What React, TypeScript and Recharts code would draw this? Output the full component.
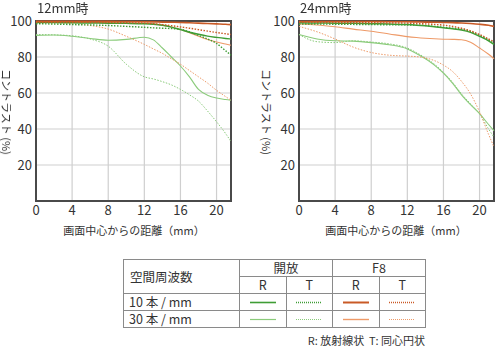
import React from "react";
import { LineChart, Line, XAxis, YAxis, CartesianGrid, ReferenceArea } from "recharts";

// distance from image centre (mm)
const DIST = [0, 2, 4, 6, 8, 10, 12, 13, 14, 15, 16, 17, 18, 19, 20, 21, 21.6];
const X_TICKS = [0, 4, 8, 12, 16, 20];
const Y_TICKS = [20, 40, 60, 80, 100];

// 12mm
const WIDE_OPEN_R10 = [99.2, 99.1, 99, 98.9, 98.8, 98.7, 98.5, 98.2, 97.6, 96.6, 95.2, 93.8, 92.6, 91.6, 90.9, 90.3, 90];
const WIDE_OPEN_T10 = [98.5, 98.3, 98, 97.8, 97.5, 97, 96.5, 96.2, 96, 95.8, 95.4, 94, 92, 90, 87.5, 83.5, 81];
const WIDE_OPEN_R30 = [92, 92.2, 91.5, 90.3, 89.3, 89.8, 91, 89.5, 85, 80, 75, 69, 62, 58.8, 57.2, 56.4, 56];
const WIDE_OPEN_T30 = [92.5, 92.3, 91.8, 90, 86, 76, 69, 67.8, 66.3, 64.5, 62, 59, 55.5, 50, 44, 37.5, 33];
const WIDE_F8_R10 = [99.8, 99.8, 99.8, 99.8, 99.8, 99.7, 99.6, 99.5, 99.4, 99.3, 99.2, 99, 98.8, 98.6, 98.4, 98.2, 98];
const WIDE_F8_T10 = [99.3, 99.3, 99.3, 99.2, 99.1, 99, 98.8, 98.5, 98, 97.4, 96.7, 96, 95.2, 94.4, 93.6, 92.9, 92.5];
const WIDE_F8_R30 = [99.4, 99.4, 99.3, 99.2, 99.1, 99, 98.8, 98.4, 97.7, 96.7, 95.3, 93.5, 91.5, 89.7, 88.3, 87.2, 86.5];
const WIDE_F8_T30 = [99, 99, 98.5, 97.5, 95.5, 91.5, 87, 84.5, 82, 79, 76, 72.5, 69, 65.5, 61.5, 58, 56];

// 24mm
const TELE_OPEN_R10 = [99, 98.9, 98.8, 98.7, 98.5, 98.3, 98, 97.7, 97.3, 96.8, 96.2, 95.7, 95, 93.7, 91.5, 89, 87];
const TELE_OPEN_T10 = [98.3, 98.3, 98.2, 98.1, 98, 97.9, 97.8, 97.7, 97.5, 97, 96.5, 96, 95.5, 94.2, 92, 89.5, 87.5];
const TELE_OPEN_R30 = [92.5, 90, 89, 88.8, 88, 86.8, 84.5, 82, 79, 75.5, 71, 65.5, 59, 53.5, 48.5, 42.5, 39];
const TELE_OPEN_T30 = [92.5, 88.5, 88, 89, 88.3, 87.3, 85, 82.5, 79.5, 76, 71.5, 66, 59.5, 54, 48.5, 40, 35.5];
const TELE_F8_R10 = [99.7, 99.7, 99.7, 99.7, 99.7, 99.6, 99.6, 99.5, 99.4, 99.3, 99.2, 99.1, 98.9, 98.6, 98.2, 97.6, 97];
const TELE_F8_T10 = [99.3, 99.2, 99.1, 99, 99, 98.9, 98.8, 98.6, 98.4, 98.1, 97.7, 97, 96, 94.5, 92.5, 90, 88.5];
const TELE_F8_R30 = [98.3, 97.8, 96.8, 95.5, 94.3, 92.8, 91.3, 90.8, 90.4, 90.1, 89.9, 89.8, 89.6, 88.2, 85, 81.5, 79];
const TELE_F8_T30 = [97, 94, 90, 85.5, 82.5, 81, 80.5, 80.2, 79.5, 78, 75.5, 72, 66.5, 59.5, 49.5, 37, 30];

const GREEN = "#3f9d35";
const GREEN_LIGHT = "#8bcb7b";
const ORANGE = "#c95a26";
const ORANGE_LIGHT = "#ee9a68";
const FONT = "'Noto Sans CJK JP', 'Noto Sans', sans-serif";

const buildRows = (s: number[][]) =>
  DIST.map((x, i) => ({
    x,
    openR10: s[0][i],
    openT10: s[1][i],
    openR30: s[2][i],
    openT30: s[3][i],
    f8R10: s[4][i],
    f8T10: s[5][i],
    f8R30: s[6][i],
    f8T30: s[7][i],
  }));

const wideData = buildRows([WIDE_OPEN_R10, WIDE_OPEN_T10, WIDE_OPEN_R30, WIDE_OPEN_T30, WIDE_F8_R10, WIDE_F8_T10, WIDE_F8_R30, WIDE_F8_T30]);
const teleData = buildRows([TELE_OPEN_R10, TELE_OPEN_T10, TELE_OPEN_R30, TELE_OPEN_T30, TELE_F8_R10, TELE_F8_T10, TELE_F8_R30, TELE_F8_T30]);

const SERIES = [
  { key: "openT30", color: GREEN_LIGHT, width: 1, dash: "1.5 1.5" },
  { key: "openR30", color: GREEN_LIGHT, width: 1.1, dash: undefined },
  { key: "f8T30", color: ORANGE_LIGHT, width: 1, dash: "1.5 1.5" },
  { key: "f8R30", color: ORANGE_LIGHT, width: 1.1, dash: undefined },
  { key: "openT10", color: GREEN, width: 1.4, dash: "1.5 1.5" },
  { key: "openR10", color: GREEN, width: 1.5, dash: undefined },
  { key: "f8T10", color: ORANGE, width: 1.4, dash: "1.5 1.5" },
  { key: "f8R10", color: ORANGE, width: 1.6, dash: undefined },
];

const tickStyle = { fontSize: 13, fill: "#333", fontFamily: FONT };

function MtfChart({ data, yWidth, right }: { data: any[]; yWidth: number; right: number }) {
  return (
    <LineChart width={250} height={240} data={data} margin={{ top: 21, right, bottom: 19, left: 0 }}>
      <CartesianGrid stroke="#cfcfcf" strokeWidth={1.2} />
      <XAxis
        dataKey="x"
        type="number"
        domain={[0, 21.6]}
        ticks={X_TICKS}
        axisLine={false}
        tickLine={false}
        tickSize={0}
        tickMargin={5}
        height={20}
        tick={tickStyle}
      />
      <YAxis
        domain={[0, 100]}
        ticks={Y_TICKS}
        axisLine={false}
        tickLine={false}
        tickSize={0}
        tickMargin={4}
        width={yWidth}
        tick={tickStyle}
      />
      {SERIES.map((s) => (
        <Line
          key={s.key}
          dataKey={s.key}
          type="monotone"
          stroke={s.color}
          strokeWidth={s.width}
          strokeDasharray={s.dash}
          dot={false}
          isAnimationActive={false}
        />
      ))}
      <ReferenceArea x1={0} x2={21.6} y1={0} y2={100} fill="none" stroke="#4a4a4a" strokeWidth={2} />
    </LineChart>
  );
}

function Sample({ color, width, dotted }: { color: string; width: number; dotted: boolean }) {
  return (
    <svg width={26} height={5} style={{ display: "block", margin: "0 auto" }}>
      <line x1={0} y1={2.5} x2={26} y2={2.5} stroke={color} strokeWidth={width} strokeDasharray={dotted ? "1 1" : undefined} />
    </svg>
  );
}

const cell: React.CSSProperties = {
  border: "1px solid #8a8a8a",
  padding: 0,
  height: 16,
  textAlign: "center",
  lineHeight: "14px",
  verticalAlign: "middle",
};

export default function App() {
  const abs = (left: number, top: number): React.CSSProperties => ({ position: "absolute", left, top });
  const yLabel = (cx: number): React.CSSProperties => ({
    position: "absolute",
    left: cx,
    top: 112,
    transform: "translate(-50%, -50%) rotate(90deg)",
    whiteSpace: "nowrap",
    fontSize: 11,
    lineHeight: "12px",
    color: "#333",
  });
  return (
    <div style={{ position: "fixed", left: 0, top: 0, width: 500, height: 355, background: "#fff", fontFamily: FONT, color: "#333" }}>
      <div style={abs(0, 0)}>
        <MtfChart data={wideData} yWidth={36} right={19} />
      </div>
      <div style={abs(250, 0)}>
        <MtfChart data={teleData} yWidth={49} right={6} />
      </div>
      <div style={{ ...abs(37, 1), fontSize: 13, lineHeight: "14px" }}>12mm時</div>
      <div style={{ ...abs(300, 1), fontSize: 13, lineHeight: "14px" }}>24mm時</div>
      <div style={yLabel(7)}>コントラスト (%)</div>
      <div style={yLabel(267)}>コントラスト (%)</div>
      <div style={{ ...abs(44, 223), width: 180, textAlign: "center", fontSize: 11, lineHeight: "14px" }}>画面中心からの距離（mm）</div>
      <div style={{ ...abs(306, 223), width: 180, textAlign: "center", fontSize: 11, lineHeight: "14px" }}>画面中心からの距離（mm）</div>

      <table style={{ ...abs(123, 259), borderCollapse: "collapse", tableLayout: "fixed", width: 302, fontSize: 12.5, border: "1px solid #777" }}>
        <colgroup>
          <col style={{ width: 116 }} />
          <col style={{ width: 46.5 }} />
          <col style={{ width: 46.5 }} />
          <col style={{ width: 46.5 }} />
          <col style={{ width: 46.5 }} />
        </colgroup>
        <tbody>
          <tr>
            <td rowSpan={2} style={{ ...cell, textAlign: "left", paddingLeft: 6 }}>空間周波数</td>
            <td colSpan={2} style={cell}>開放</td>
            <td colSpan={2} style={cell}>F8</td>
          </tr>
          <tr>
            <td style={cell}>R</td>
            <td style={cell}>T</td>
            <td style={cell}>R</td>
            <td style={cell}>T</td>
          </tr>
          <tr>
            <td style={{ ...cell, textAlign: "left", paddingLeft: 5 }}>10 本 / mm</td>
            <td style={cell}><Sample color={GREEN} width={1.6} dotted={false} /></td>
            <td style={cell}><Sample color={GREEN} width={1.6} dotted /></td>
            <td style={cell}><Sample color={ORANGE} width={2} dotted={false} /></td>
            <td style={cell}><Sample color={ORANGE} width={1.6} dotted /></td>
          </tr>
          <tr>
            <td style={{ ...cell, textAlign: "left", paddingLeft: 5 }}>30 本 / mm</td>
            <td style={cell}><Sample color={GREEN_LIGHT} width={1.2} dotted={false} /></td>
            <td style={cell}><Sample color={GREEN_LIGHT} width={1.2} dotted /></td>
            <td style={cell}><Sample color={ORANGE_LIGHT} width={1.4} dotted={false} /></td>
            <td style={cell}><Sample color={ORANGE_LIGHT} width={1.2} dotted /></td>
          </tr>
        </tbody>
      </table>
      <div style={{ ...abs(225, 333), width: 200, textAlign: "right", fontSize: 11, lineHeight: "14px" }}>R: 放射線状&nbsp;&nbsp;T: 同心円状</div>
    </div>
  );
}
